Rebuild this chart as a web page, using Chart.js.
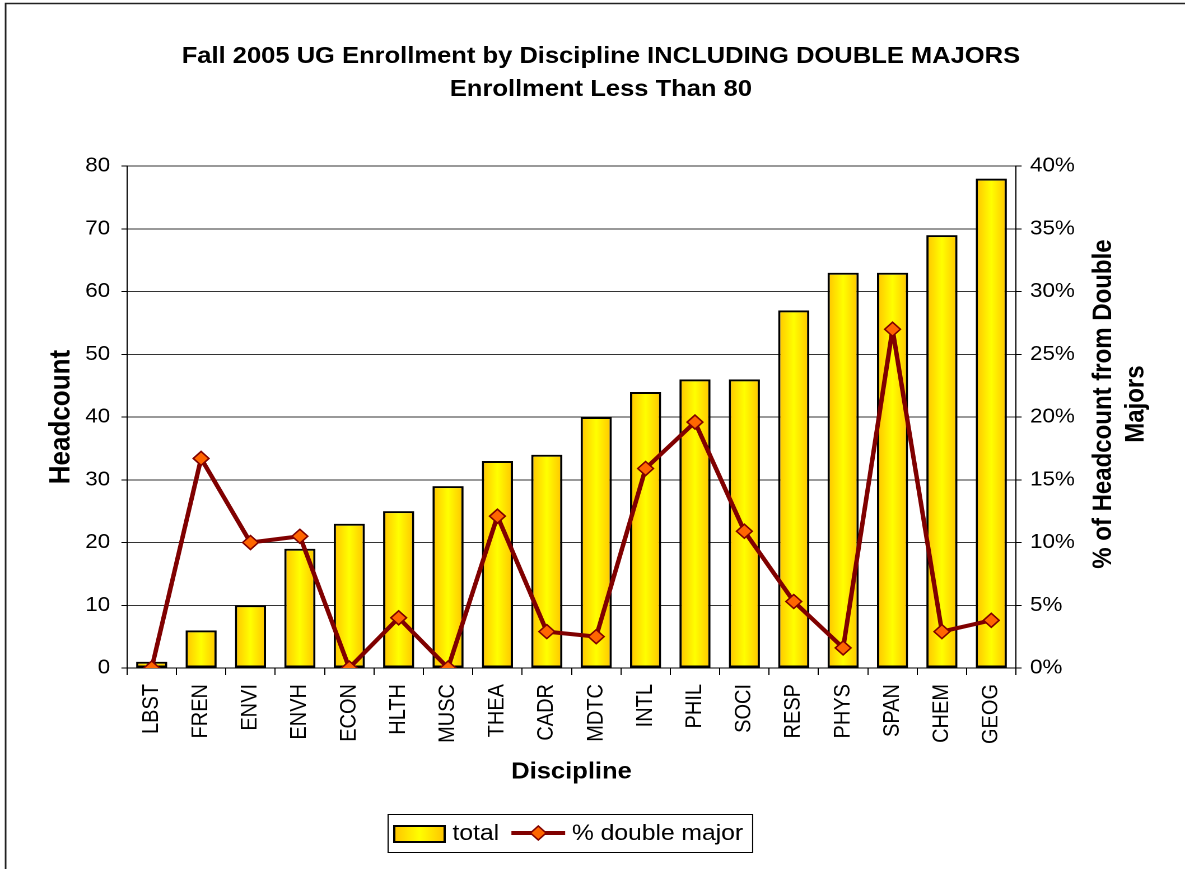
<!DOCTYPE html>
<html><head><meta charset="utf-8">
<script src="https://cdn.jsdelivr.net/npm/chart.js@4/dist/chart.umd.min.js"></script>
<style>html,body{margin:0;padding:0;background:#fff;overflow:hidden}
#c{display:block;width:1185px;height:869px}</style>
</head><body>
<canvas id="c" width="1058" height="869" style="width:1185px;height:869px"></canvas>
<script>
// ---- data ----
const titleLines = ['Fall 2005 UG Enrollment by Discipline INCLUDING DOUBLE MAJORS', 'Enrollment Less Than 80'];
const categories = ['LBST','FREN','ENVI','ENVH','ECON','HLTH','MUSC','THEA','CADR','MDTC','INTL','PHIL','SOCI','RESP','PHYS','SPAN','CHEM','GEOG'];
const totalHeadcount = [1, 6, 10, 19, 23, 25, 29, 33, 34, 40, 44, 46, 46, 57, 63, 63, 69, 78];
const pctDoubleMajor = [0, 16.7, 10.0, 10.5, 0, 4.0, 0, 12.1, 2.9, 2.5, 15.9, 19.6, 10.9, 5.3, 1.6, 27.0, 2.9, 3.8];
const seriesNames = ['total', '% double major'];
const xAxisTitle = 'Discipline';
const yAxisTitle = 'Headcount';
const y2AxisTitle = ['% of Headcount from Double', 'Majors'];
const yRange = [0, 80, 10];
const y2Range = [0, 40, 5];

const FONT = "'Liberation Sans', Arial, Helvetica, sans-serif";
Chart.defaults.font.family = FONT;
Chart.defaults.color = '#000';

const BAR_PCT = 0.63;
function barGradient(ctx, x0, x1) {
  const g = ctx.createLinearGradient(x0, 0, x1, 0);
  g.addColorStop(0, '#FFC400');
  g.addColorStop(0.5, '#FFFF00');
  g.addColorStop(1, '#FFC400');
  return g;
}

const decor = {
  id: 'decor',
  afterDraw(chart) {
    const ctx = chart.ctx, ca = chart.chartArea;
    ctx.save();
    // outer frame
    ctx.strokeStyle = '#222'; ctx.lineWidth = 1.5;
    ctx.strokeRect(5, 3.5, chart.width + 50, chart.height + 50);
    // right axis title (reads bottom-to-top)
    const y2 = chart.scales.y2;
    ctx.fillStyle = '#000';
    ctx.font = 'bold 24px ' + FONT;
    ctx.textAlign = 'center'; ctx.textBaseline = 'middle';
    const cy = (ca.top + ca.bottom) / 2 - 13;
    y2AxisTitle.forEach((t, i) => {
      ctx.save();
      ctx.translate(y2.left + 78.5 + i * 28.8, cy);
      ctx.rotate(-Math.PI / 2);
      ctx.fillText(t, 0, 0);
      ctx.restore();
    });
    // legend
    const ds = chart.data.datasets;
    const barDs = ds.find(d => d.type === 'bar'), lineDs = ds.find(d => d.type === 'line');
    ctx.font = '22px ' + FONT;
    const w1 = ctx.measureText(barDs.label).width, w2 = ctx.measureText(lineDs.label).width;
    const pad = 6, sw = 45, g1 = 7, g2 = 11, lw = 48, g3 = 6, padR = 8;
    const W = pad + sw + g1 + w1 + g2 + lw + g3 + w2 + padR;
    const left = Math.round((ca.left + ca.right) / 2 - W / 2) - 2, top = 814, h = 38, my = 833;
    ctx.fillStyle = '#fff'; ctx.fillRect(left, top, W, h);
    ctx.strokeStyle = '#000'; ctx.lineWidth = 1;
    ctx.strokeRect(left + 0.5, top + 0.5, W, h);
    let x = left + pad;
    ctx.fillStyle = barGradient(ctx, x, x + sw);
    ctx.fillRect(x, 826, sw, 16);
    ctx.lineWidth = 2; ctx.strokeStyle = '#000';
    ctx.strokeRect(x, 826, sw, 16);
    x += sw + g1;
    ctx.fillStyle = '#000'; ctx.textAlign = 'left'; ctx.textBaseline = 'middle';
    ctx.fillText(barDs.label, x, my + 1);
    x += w1 + g2;
    ctx.strokeStyle = lineDs.borderColor; ctx.lineWidth = 4;
    ctx.beginPath(); ctx.moveTo(x, my); ctx.lineTo(x + lw, my); ctx.stroke();
    const dx = x + lw / 2, r = 7;
    ctx.beginPath(); ctx.moveTo(dx, my - r); ctx.lineTo(dx + r, my); ctx.lineTo(dx, my + r); ctx.lineTo(dx - r, my); ctx.closePath();
    ctx.fillStyle = lineDs.pointBackgroundColor; ctx.fill();
    ctx.lineWidth = 1.5; ctx.strokeStyle = lineDs.pointBorderColor; ctx.stroke();
    x += lw + g3;
    ctx.fillStyle = '#000';
    ctx.fillText(lineDs.label, x, my + 1);
    ctx.restore();
  }
};

new Chart(document.getElementById('c'), {
  data: {
    labels: categories,
    datasets: [
      {
        type: 'line', label: seriesNames[1], data: pctDoubleMajor, yAxisID: 'y2', order: 0,
        borderColor: '#800000', borderWidth: 4, tension: 0, borderJoinStyle: 'round',
        pointStyle: 'rectRot', pointRadius: 7, pointHoverRadius: 7,
        pointBackgroundColor: '#FF6600', pointBorderColor: '#800000', pointBorderWidth: 1.5
      },
      {
        type: 'bar', label: seriesNames[0], data: totalHeadcount, yAxisID: 'y', order: 1,
        barPercentage: BAR_PCT, categoryPercentage: 1,
        borderColor: '#000', borderWidth: 2, borderSkipped: false,
        backgroundColor: (c) => {
          const chart = c.chart, xs = chart.scales && chart.scales.x;
          if (!xs || c.dataIndex == null || !chart.chartArea) return '#FFE000';
          const cx = xs.getPixelForValue(c.dataIndex);
          const w = xs.width / categories.length * BAR_PCT;
          return barGradient(chart.ctx, cx - w / 2, cx + w / 2);
        }
      }
    ]
  },
  options: {
    responsive: false, animation: false, devicePixelRatio: 2,
    layout: { padding: { left: 15, right: 0, top: 0, bottom: 81 } },
    plugins: {
      legend: { display: false },
      tooltip: { enabled: false },
      title: {
        display: true, text: titleLines, color: '#000',
        font: { size: 22.8, weight: 'bold', lineHeight: 1.45 },
        padding: { top: 40, bottom: 60 }
      }
    },
    scales: {
      x: {
        offset: true,
        grid: { display: true, drawOnChartArea: false, drawTicks: true, tickLength: 7, tickColor: '#000', offset: true },
        border: { display: true, color: '#000', width: 1 },
        ticks: { autoSkip: false, maxRotation: 90, minRotation: 90, padding: 9, font: { size: 20 }, color: '#000' },
        title: { display: true, text: xAxisTitle, font: { size: 22.8, weight: 'bold' }, color: '#000', padding: { top: 0, bottom: 2 } },
        afterFit: (s) => { s.height = 120; }
      },
      y: {
        position: 'left', min: yRange[0], max: yRange[1],
        ticks: { stepSize: yRange[2], padding: 10, font: { size: 20 }, color: '#000' },
        grid: { color: '#333', lineWidth: 1, tickLength: 5, tickColor: '#000' },
        border: { display: true, color: '#000', width: 1 },
        title: { display: true, text: yAxisTitle, font: { size: 26, weight: 'bold' }, color: '#000', padding: { top: 24, bottom: 0 } },
        afterFit: (s) => { s.width = 98.4; }
      },
      y2: {
        position: 'right', min: y2Range[0], max: y2Range[1],
        ticks: { stepSize: y2Range[2], padding: 7.5, font: { size: 20 }, color: '#000', callback: (v) => v + '%' },
        grid: { drawOnChartArea: false, tickLength: 5, tickColor: '#000' },
        border: { display: true, color: '#000', width: 1 },
        title: { display: false },
        afterFit: (s) => { s.width = 150.9; }
      }
    }
  },
  plugins: [decor]
});
</script>
</body></html>
